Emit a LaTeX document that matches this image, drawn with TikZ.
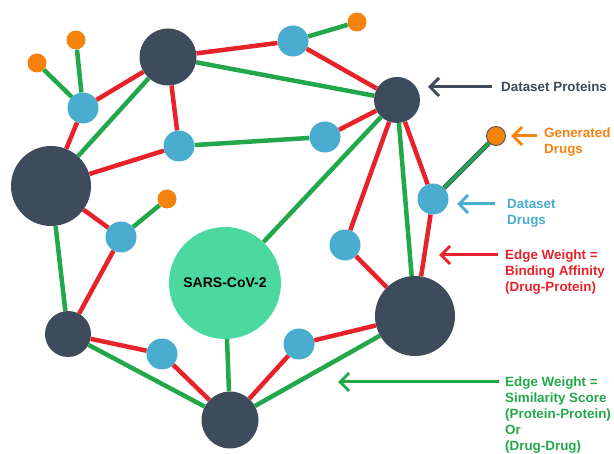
\documentclass[tikz,border=0pt]{standalone}
\usepackage{fontspec}
\setmainfont{Liberation Sans}
\usetikzlibrary{arrows.meta}

\definecolor{protcol}{HTML}{3D4B5C}
\definecolor{drugcol}{HTML}{4AACCF}
\definecolor{gencol}{HTML}{F5820D}
\definecolor{viruscol}{HTML}{4CD9A0}
\definecolor{bindcol}{HTML}{E8222A}
\definecolor{simcol}{HTML}{22A84A}

\begin{document}
\begin{tikzpicture}[x=1pt,y=-1pt,
		prot/.style={circle,fill=protcol,inner sep=0pt,minimum size=#1},
		drug/.style={circle,fill=drugcol,inner sep=0pt,minimum size=31pt},
		gen/.style={circle,fill=gencol,inner sep=0pt,minimum size=19pt},
		bindedge/.style={draw=bindcol,line width=4.5pt},
		simedge/.style={draw=simcol,line width=4.5pt},
		legend/.style={anchor=north west,align=left,inner sep=0pt,font=\fontsize{13.4}{16}\selectfont\bfseries},
		pointer/.style={-{Straight Barb[length=9pt,width=18pt]},line width=3pt}]
		\useasboundingbox (0,0) rectangle (614,454);

		% proteins
		\draw (168,57) node [prot=57pt] (p1) {};
		\draw (397,100) node [prot=46pt] (p2) {};
		\draw (51,186) node [prot=80pt] (p3) {};
		\draw (68,334) node [prot=46pt] (p4) {};
		\draw (230,420) node [prot=57pt] (p5) {};
		\draw (415,316) node [prot=80pt] (p6) {};
		\draw (225,283) node [circle,fill=viruscol,inner sep=0pt,minimum size=112pt,
			font=\fontsize{14}{16}\selectfont\bfseries] (virus) {SARS-CoV-2};

		% dataset drugs
		\draw (83,108) node [drug] (d1) {};
		\draw (179,146) node [drug] (d2) {};
		\draw (293,41) node [drug] (d3) {};
		\draw (325,137) node [drug] (d4) {};
		\draw (121,237) node [drug] (d5) {};
		\draw (433,199) node [drug] (d6) {};
		\draw (345,245) node [drug] (d7) {};
		\draw (162,354) node [drug] (d8) {};
		\draw (299,344) node [drug] (d9) {};

		% generated drugs
		\draw (37,63) node [gen] (g1) {};
		\draw (76,40) node [gen] (g2) {};
		\draw (357,22) node [gen] (g3) {};
		\draw (167,199) node [gen] (g4) {};
		\draw (496,136) node [gen,draw=protcol,line width=0.8pt] (g5) {};

		\draw
			(d1) edge [bindedge] (p1)
			(d1) edge [bindedge] (p3)
			(p1) edge [bindedge] (d2)
			(d2) edge [bindedge] (p3)
			(p1) edge [bindedge] (d3)
			(d3) edge [bindedge] (p2)
			(d4) edge [bindedge] (p2)
			(p3) edge [bindedge] (d5)
			(d5) edge [bindedge] (p4)
			(p4) edge [bindedge] (d8)
			(d8) edge [bindedge] (p5)
			(p5) edge [bindedge] (d9)
			(d9) edge [bindedge] (p6)
			(p2) edge [bindedge] (d7)
			(d7) edge [bindedge] (p6)
			(p2) edge [bindedge] (d6)
			(d6) edge [bindedge] (p6)
		;
		\draw
			(d1) edge [simedge] (g1)
			(d1) edge [simedge] (g2)
			(d3) edge [simedge] (g3)
			(d5) edge [simedge] (g4)
			(p1) edge [simedge] (p3)
			(p1) edge [simedge] (p2)
			(d2) edge [simedge] (d4)
			(p2) edge [simedge] (virus)
			(p2) edge [simedge] (p6)
			(p3) edge [simedge] (p4)
			(p4) edge [simedge] (p5)
			(virus) edge [simedge] (p5)
			(p5) edge [simedge] (p6)
			(d6) edge [draw=protcol,double=simcol,double distance=3pt,line width=0.9pt] (g5)
		;

		% legend
		\draw (501,82) node [legend,text=protcol] (lprot) {Dataset Proteins};
		\draw (544,128) node [legend,text=gencol] (lgen) {Generated\\Drugs};
		\draw (507,199) node [legend,text=drugcol] (ldrug) {Dataset\\Drugs};
		\draw (505,250) node [legend,text=bindcol] (lbind) {Edge Weight =\\Binding Affinity\\(Drug-Protein)};
		\draw (505,377) node [legend,text=simcol] (lsim) {Edge Weight =\\Similarity Score\\(Protein-Protein)\\Or\\(Drug-Drug)};

		\coordinate (protfrom) at (492,87);
		\coordinate (protto) at (428,87);
		\coordinate (genfrom) at (537,136);
		\coordinate (gento) at (511,136);
		\coordinate (drugfrom) at (495,204);
		\coordinate (drugto) at (457,204);
		\coordinate (bindfrom) at (498,255);
		\coordinate (bindto) at (439,255);
		\coordinate (simfrom) at (499,382);
		\coordinate (simto) at (338,382);

		\draw [pointer,protcol] (protfrom) -- (protto);
		\draw [pointer,gencol] (genfrom) -- (gento);
		\draw [pointer,drugcol] (drugfrom) -- (drugto);
		\draw [pointer,bindcol] (bindfrom) -- (bindto);
		\draw [pointer,simcol] (simfrom) -- (simto);
	\end{tikzpicture}
\end{document}
